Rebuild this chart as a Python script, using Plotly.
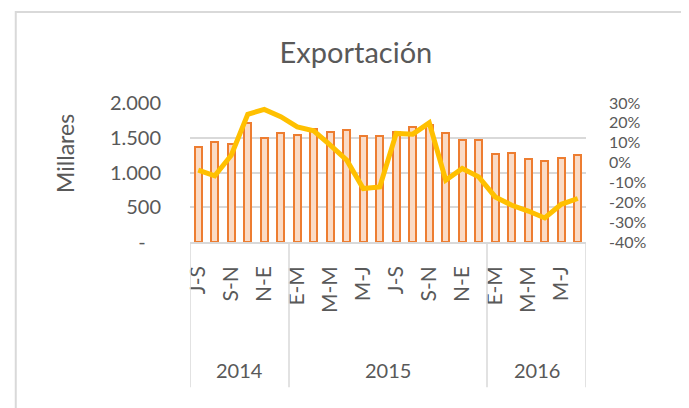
import plotly.graph_objects as go

# periodos trimestrales móviles (24 meses)
years = ["2014", "2015", "2016"]
year_counts = [6, 12, 6]
periods = ["J-S", "A-O", "S-N", "O-D", "N-E", "D-F",
           "E-M", "F-A", "M-M", "A-J", "M-J", "J-A",
           "J-S", "A-O", "S-N", "O-D", "N-E", "D-F",
           "E-M", "F-A", "M-M", "A-J", "M-J", "J-A"]

exports = [1373, 1440, 1412, 1711, 1498, 1571,
           1537, 1628, 1580, 1618, 1532, 1523,
           1578, 1650, 1690, 1566, 1465, 1465,
           1272, 1275, 1195, 1170, 1214, 1253]

growth = [-3.8, -6.7, 3.7, 24.3, 26.8, 23.1,
          18.0, 16.0, 8.8, 1.2, -13.1, -12.3,
          14.7, 14.3, 20.0, -8.9, -3.0, -7.2,
          -17.3, -21.5, -24.4, -27.9, -21.0, -18.1]

y_ticks = [0, 500, 1000, 1500, 2000]
y_ticktext = ["-\u00a0\u00a0\u00a0", "500", "1.000", "1.500", "2.000"]
y2_ticks = [-0.4, -0.3, -0.2, -0.1, 0, 0.1, 0.2, 0.3]
y2_ticktext = ["-40%", "-30%", "-20%", "-10%", "0%", "10%", "20%", "30%"]

FONT = "Lato"
GREY = "#595959"
x = list(range(len(periods)))

fig = go.Figure()

fig.add_trace(go.Bar(
    x=x, y=exports,
    width=0.42,
    marker=dict(color="#FADBC6", line=dict(color="#ED7D31", width=2)),
    showlegend=False
))

fig.add_trace(go.Scatter(
    x=x, y=[g / 100 for g in growth],
    yaxis="y2",
    mode="lines",
    line=dict(color="#FFC000", width=5),
    showlegend=False
))

# year separators and labels
shapes = []
annotations = []
start = 0
bounds = [-0.5]
for yr, n in zip(years, year_counts):
    end = start + n
    bounds.append(end - 0.5)
    annotations.append(dict(
        x=(start + end - 1) / 2, y=-0.92, xref="x", yref="paper",
        xanchor="center", yanchor="middle",
        text=yr, showarrow=False, font=dict(family=FONT, size=20, color=GREY)
    ))
    start = end
for b in bounds:
    shapes.append(dict(type="line", xref="x", yref="paper", x0=b, x1=b,
                       y0=0, y1=-1.045, line=dict(color="#D9D9D9", width=1.5)))

# chart border
shapes.append(dict(type="rect", xref="paper", yref="paper",
                   x0=-0.44, x1=1.255, y0=-1.4, y1=1.655,
                   line=dict(color="#D9D9D9", width=2)))

annotations.append(dict(
    x=-0.316, y=0.64, xref="paper", yref="paper", text="Millares",
    xanchor="center", yanchor="middle",
    textangle=-90, showarrow=False, font=dict(family=FONT, size=23, color=GREY)
))

fig.update_layout(
    width=689, height=408,
    margin=dict(l=182, r=111, t=95, b=174),
    paper_bgcolor="white", plot_bgcolor="white",
    title=dict(text="Exportación", x=0.505, y=0.89, xanchor="center", yanchor="middle",
               font=dict(family=FONT, size=29, color=GREY)),
    xaxis=dict(
        range=[-0.5, len(periods) - 0.5],
        tickvals=x[::2], ticktext=periods[::2],
        tickangle=-90, ticklabelstandoff=14,
        tickfont=dict(family=FONT, size=21, color=GREY),
        showgrid=False, zeroline=False,
        showline=True, linecolor="#D9D9D9", linewidth=1.5
    ),
    yaxis=dict(
        range=[0, 2000], tickvals=y_ticks, ticktext=y_ticktext,
        ticklabelstandoff=28,
        tickfont=dict(family=FONT, size=20, color=GREY),
        showgrid=True, gridcolor="#D9D9D9", gridwidth=1.5, zeroline=False
    ),
    yaxis2=dict(
        range=[-0.4, 0.3], overlaying="y", side="right",
        tickvals=y2_ticks, ticktext=y2_ticktext,
        ticklabelstandoff=22,
        tickfont=dict(family=FONT, size=16, color=GREY),
        showgrid=False, zeroline=False
    ),
    shapes=shapes,
    annotations=annotations,
    bargap=0
)

fig.write_html("out.html")
